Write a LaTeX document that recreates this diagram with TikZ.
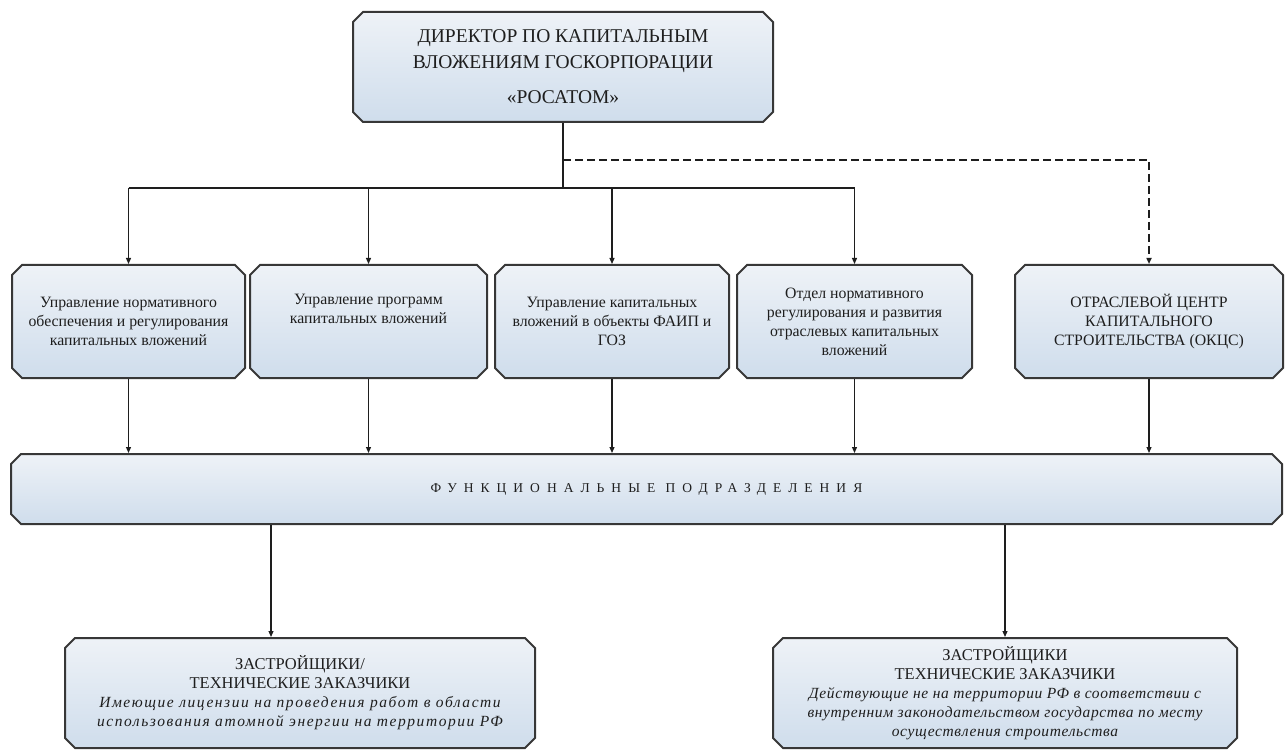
\documentclass[tikz,border=0pt]{standalone}
\usepackage{fontspec}
\setmainfont{Liberation Serif}
\newfontfamily\spacedfont[LetterSpace=52]{Liberation Serif}
\newfontfamily\looseit[LetterSpace=10]{Liberation Serif}
\newfontfamily\tightit[LetterSpace=4]{Liberation Serif}
\usepackage{tikz}
\usetikzlibrary{positioning}
\usetikzlibrary{shapes.misc}
\usetikzlibrary{arrows.meta}

\definecolor{boxtop}{RGB}{238,242,247}
\definecolor{boxbot}{RGB}{207,221,236}
\definecolor{edge}{RGB}{55,55,55}
\definecolor{ink}{RGB}{30,30,30}

% italic remarks under the developer titles
\newcommand{\remark}[2]{{#1\itshape\fontsize{15.5}{19}\selectfont #2}}

\tikzset{
  unit/.style={chamfered rectangle, chamfered rectangle xsep=7pt,
    draw=edge, line width=2pt, top color=boxtop, bottom color=boxbot,
    text=ink, align=center, inner sep=2pt},
  dept/.style={unit, minimum height=113pt, font=\fontsize{15.8}{19}\selectfont},
  arr/.style={-{Triangle[length=6pt,width=5pt]}, line width=1.2pt, draw=ink},
}

\begin{document}
\begin{tikzpicture}[x=1pt, y=-1pt]
\useasboundingbox (0,0) rectangle (1285,751);

% head of the structure
\node[unit, minimum width=420pt, minimum height=110pt,
  font=\fontsize{19.5}{26}\selectfont] (dir) at (563,67)
  {ДИРЕКТОР ПО КАПИТАЛЬНЫМ\\ВЛОЖЕНИЯМ ГОСКОРПОРАЦИИ\\[9pt]«РОСАТОМ»};

% departments
\node[dept, minimum width=233pt] (b1) at (128.5,321.5)
  {Управление нормативного\\обеспечения и регулирования\\капитальных вложений};
\node[dept, minimum width=237pt] (b2) at (368.5,321.5)
  {Управление программ\\капитальных вложений\\\strut};
\node[dept, minimum width=234pt] (b3) at (612,321.5)
  {Управление капитальных\\вложений в объекты ФАИП и\\ГОЗ};
\node[dept, minimum width=235pt] (b4) at (854.5,321.5)
  {Отдел нормативного\\регулирования и развития\\отраслевых капитальных\\вложений};
\node[dept, minimum width=268pt] (b5) at (1149,321.5)
  {ОТРАСЛЕВОЙ ЦЕНТР\\КАПИТАЛЬНОГО\\СТРОИТЕЛЬСТВА (ОКЦС)};

\node[unit, minimum width=1271pt, minimum height=70pt,
  font=\spacedfont\fontsize{13.5}{14}\selectfont] (fp) at (646.5,489)
  {ФУНКЦИОНАЛЬНЫЕ ПОДРАЗДЕЛЕНИЯ};

% developers
\node[unit, minimum width=470pt, minimum height=110pt,
  font=\fontsize{16.5}{19}\selectfont] (zl) at (300,693)
  {ЗАСТРОЙЩИКИ/\\ТЕХНИЧЕСКИЕ ЗАКАЗЧИКИ\\
   \remark{\looseit}{Имеющие лицензии на проведения работ в области}\\
   \remark{\looseit}{использования атомной энергии на территории РФ}};
\node[unit, minimum width=464pt, minimum height=110pt,
  font=\fontsize{16.5}{19}\selectfont] (zr) at (1005,693)
  {ЗАСТРОЙЩИКИ\\ТЕХНИЧЕСКИЕ ЗАКАЗЧИКИ\\
   \remark{\tightit}{Действующие не на территории РФ в соответствии с}\\
   \remark{\tightit}{внутренним законодательством государства по месту}\\
   \remark{\tightit}{осуществления строительства}};

% connectors
\draw[line width=1.2pt, ink] (dir.south) -- (dir.south |- 0,188) coordinate (fork);
\draw[line width=1.2pt, ink] (b1.north |- fork) -- (b4.north |- fork);
\foreach \b in {b1,b2,b3,b4}
  \draw[arr] (\b.north |- fork) -- (\b.north);
\draw[arr, line width=1.7pt, dash pattern=on 8pt off 4pt] (dir.south |- 0,160) -| (b5.north);

\foreach \b in {b1,b2,b3,b4,b5}
  \draw[arr] (\b.south) -- (\b.south |- fp.north);

\draw[arr] ([xshift=-29pt]zl.north |- fp.south) -- ([xshift=-29pt]zl.north);
\draw[arr] (zr.north |- fp.south) -- (zr.north);
\end{tikzpicture}
\end{document}
